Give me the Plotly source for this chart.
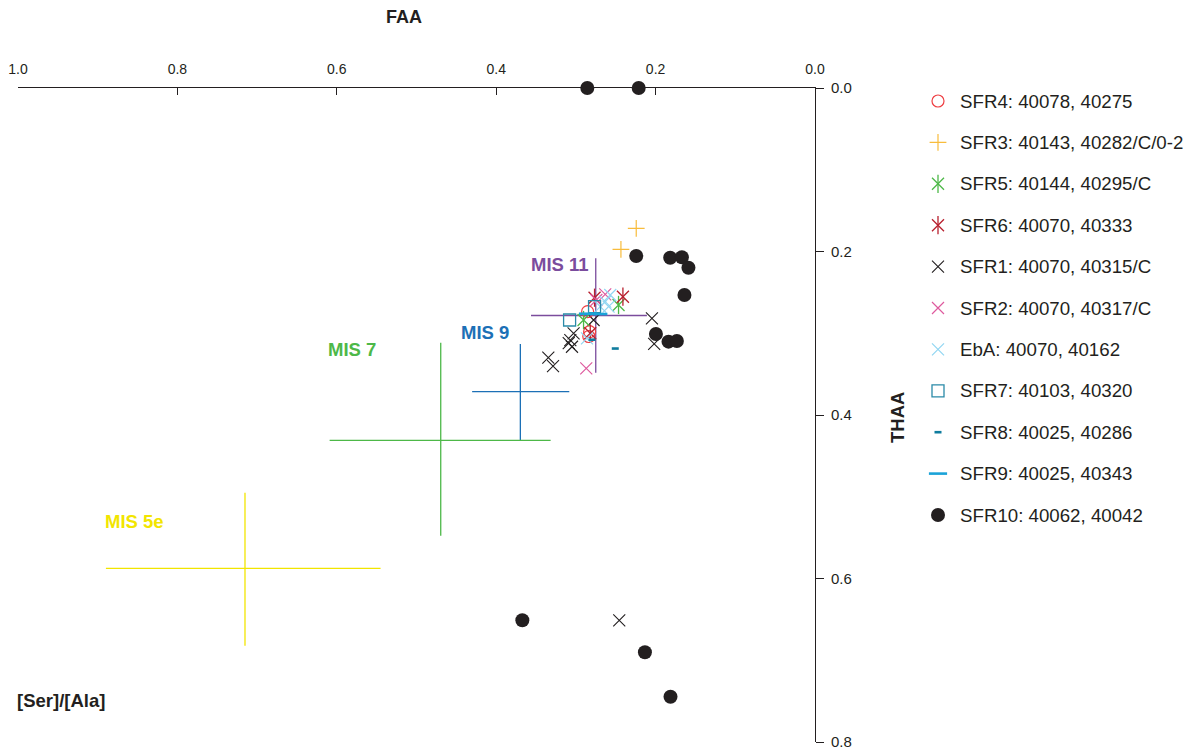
import plotly.graph_objects as go

# ---------------- data (FAA = x, THAA = y) ----------------
sfr4_x = [0.2853, 0.2828, 0.2838]
sfr4_y = [0.2736, 0.2981, 0.3040]
sfr3_x = [0.2243, 0.2435]
sfr3_y = [0.1716, 0.1973]
sfr5_x = [0.2465, 0.2904]
sfr5_y = [0.2654, 0.2838]
sfr6_x = [0.2766, 0.2410, 0.2820]
sfr6_y = [0.2565, 0.2553, 0.3001]
sfr1_x = [0.2456, 0.2046, 0.2018, 0.2778, 0.3029, 0.3070, 0.3049, 0.3346, 0.3287, 0.3090]
sfr1_y = [0.6511, 0.2817, 0.3131, 0.2838, 0.3001, 0.3083, 0.3165, 0.3299, 0.3401, 0.3120]
sfr2_x = [0.2632, 0.2870, 0.2744]
sfr2_y = [0.2524, 0.3429, 0.2593]
eba_x = [0.2569, 0.2632, 0.2590, 0.2694, 0.2861]
eba_y = [0.2532, 0.2614, 0.2675, 0.2675, 0.3062]
sfr7_x = [0.3079, 0.2766]
sfr7_y = [0.2838, 0.2675]
sfr8_x = [0.2506, 0.2798]
sfr8_y = [0.3187, 0.3079]
sfr9_x = [0.2848, 0.2719]
sfr9_y = [0.2761, 0.2765]
sfr10_x = [0.2857, 0.2212, 0.2243, 0.1817, 0.1670, 0.1588, 0.1638, 0.1996, 0.1838, 0.1733,
           0.3672, 0.2134, 0.1813]
sfr10_y = [0.0, 0.0, 0.2055, 0.2076, 0.2071, 0.2198, 0.2532, 0.3009, 0.3103, 0.3095,
           0.6511, 0.6903, 0.7446]

series_names = ["SFR4: 40078, 40275", "SFR3: 40143, 40282/C/0-2", "SFR5: 40144, 40295/C",
                "SFR6: 40070, 40333", "SFR1: 40070, 40315/C", "SFR2: 40070, 40317/C",
                "EbA: 40070, 40162", "SFR7: 40103, 40320", "SFR8: 40025, 40286",
                "SFR9: 40025, 40343", "SFR10: 40062, 40042"]

# MIS reference ranges: label, centre, low/high bounds
mis_labels = ["MIS 11", "MIS 9", "MIS 7", "MIS 5e"]
mis_x = [0.2751, 0.3697, 0.4696, 0.7152]
mis_y = [0.2783, 0.3715, 0.4310, 0.5875]
mis_x_low = [0.2109, 0.3083, 0.3317, 0.5451]
mis_x_high = [0.3563, 0.4302, 0.6090, 0.8897]
mis_y_low = [0.2083, 0.3131, 0.3116, 0.4950]
mis_y_high = [0.3483, 0.4306, 0.5476, 0.6822]
mis_label_x = [0.359, 0.447, 0.6135, 0.893]
mis_label_y = [0.2165, 0.2985, 0.3193, 0.5297]

x_ticks = [0.0, 0.2, 0.4, 0.6, 0.8, 1.0]
y_ticks = [0.0, 0.2, 0.4, 0.6, 0.8]

# ---------------- styles ----------------
DARK = "#231F20"
FONT = "Liberation Sans, Arial, Helvetica, sans-serif"
mis_colors = ["#7B4C9D", "#1C70B6", "#4DB848", "#F2E500"]

styles = [
    # (x, y, symbols, color, size, linewidth)
    (sfr4_x, sfr4_y, ["circle-open"], "#EE3E42", 12, 1.2),
    (sfr3_x, sfr3_y, ["cross-thin-open"], "#F8BC3C", 12, 1.2),
    (sfr5_x, sfr5_y, ["x-thin-open", "line-ns-open"], "#4DB848", 12, 1.3),
    (sfr6_x, sfr6_y, ["x-thin-open", "line-ns-open"], "#B8202E", 12, 1.3),
    (sfr1_x, sfr1_y, ["x-thin-open"], DARK, 12, 1.1),
    (sfr2_x, sfr2_y, ["x-thin-open"], "#DE5A9E", 12, 1.2),
    (eba_x, eba_y, ["x-thin-open"], "#92D6F2", 12, 1.2),
    (sfr7_x, sfr7_y, ["square-open"], "#2A8AA8", 12, 1.3),
    (sfr8_x, sfr8_y, ["line-ew-open"], "#0F7C9E", 5, 2.6),
    (sfr9_x, sfr9_y, ["line-ew-open"], "#1AA3D8", 13, 2.6),
    (sfr10_x, sfr10_y, ["circle"], DARK, 14, 0),
]

# ---------------- geometry (screen pixels; page body adds an 8px offset) ----------------
OFF = 8
W, H = 1193 - OFF, 751 - OFF
PLOT_L, PLOT_R, PLOT_T, PLOT_B = 18, 815, 88, 742   # screen px of the main plot box
ML, MR, MT = PLOT_L - OFF, 0, PLOT_T - OFF
MB = H - (PLOT_B - OFF)
PW = W - ML - MR
PH = H - MT - MB


def px_x(p):
    return (p - OFF - ML) / PW


def px_y(p):
    return (H - MB - (p - OFF)) / PH


fig = go.Figure()

# MIS crosses drawn as error bars
for i in range(len(mis_labels)):
    fig.add_trace(go.Scatter(
        x=[mis_x[i]], y=[mis_y[i]], mode="markers",
        marker=dict(size=1, color="rgba(0,0,0,0)"),
        error_x=dict(type="data", symmetric=False,
                     array=[mis_x_high[i] - mis_x[i]], arrayminus=[mis_x[i] - mis_x_low[i]],
                     color=mis_colors[i], thickness=1.3, width=0),
        error_y=dict(type="data", symmetric=False,
                     array=[mis_y_high[i] - mis_y[i]], arrayminus=[mis_y[i] - mis_y_low[i]],
                     color=mis_colors[i], thickness=1.3, width=0),
        showlegend=False, hoverinfo="skip", xaxis="x", yaxis="y"))
    fig.add_annotation(x=mis_label_x[i], y=mis_label_y[i], xref="x", yref="y",
                       text="<b>%s</b>" % mis_labels[i], showarrow=False,
                       xanchor="left", yanchor="middle",
                       font=dict(family=FONT, size=18.5, color=mis_colors[i]))

# data points
order = [10, 4, 0, 1, 2, 3, 5, 6, 7, 8, 9]
for k in order:
    xs, ys, syms, col, sz, lw = styles[k]
    for s in syms:
        sz_use = sz + 1 if s == "line-ns-open" else sz
        fig.add_trace(go.Scatter(
            x=xs, y=ys, mode="markers", name=series_names[k],
            marker=dict(symbol=s, size=sz_use, color=col, line=dict(color=col, width=lw)),
            cliponaxis=False, showlegend=False, xaxis="x", yaxis="y"))

# custom legend (x2/y2 axes in screen-pixel units)
leg_y0, leg_step = 101, 41.4
for k in range(len(series_names)):
    _, _, syms, col, sz, lw = styles[k]
    ry = leg_y0 + leg_step * k
    for s in syms:
        sz_use = sz + 1 if s == "line-ns-open" else sz
        fig.add_trace(go.Scatter(
            x=[938], y=[ry], mode="markers",
            marker=dict(symbol=s, size=sz_use, color=col, line=dict(color=col, width=lw)),
            cliponaxis=False, showlegend=False, hoverinfo="skip", xaxis="x2", yaxis="y2"))
    fig.add_annotation(x=958, y=ry, xref="x2", yref="y2", text=series_names[k],
                       showarrow=False, xanchor="left", yanchor="middle",
                       font=dict(family=FONT, size=18.7, color=DARK))

# axis titles
fig.add_annotation(x=px_x(403.5), y=px_y(17), xref="paper", yref="paper", text="<b>FAA</b>",
                   showarrow=False, xanchor="center", yanchor="middle",
                   font=dict(family=FONT, size=18, color=DARK))
fig.add_annotation(x=px_x(897), y=px_y(418), xref="paper", yref="paper", text="<b>THAA</b>",
                   showarrow=False, textangle=-90, xanchor="center", yanchor="middle",
                   font=dict(family=FONT, size=18.5, color=DARK))
fig.add_annotation(x=px_x(15), y=px_y(700), xref="paper", yref="paper", text="<b>[Ser]/[Ala]</b>",
                   showarrow=False, xanchor="left", yanchor="middle",
                   font=dict(family=FONT, size=18.5, color=DARK))

fig.update_layout(
    width=W, height=H,
    margin=dict(l=ML, r=MR, t=MT, b=MB, autoexpand=False),
    paper_bgcolor="white", plot_bgcolor="white",
    font=dict(family=FONT, color=DARK),
    showlegend=False,
    xaxis=dict(domain=[0, px_x(PLOT_R)], range=[1.0, 0.0], side="top", anchor="y",
               tickvals=x_ticks, tickformat=".1f", ticks="inside", ticklen=7, tickwidth=1,
               tickcolor=DARK, showline=True, linecolor=DARK, linewidth=1,
               showgrid=False, zeroline=False, automargin=False, ticklabelstandoff=7,
               tickfont=dict(family=FONT, size=14, color=DARK)),
    yaxis=dict(domain=[0, 1], range=[0.8, 0.0], side="right", anchor="x",
               tickvals=y_ticks, tickformat=".1f", ticks="outside", ticklen=8, tickwidth=1,
               tickcolor=DARK, showline=True, linecolor=DARK, linewidth=1,
               showgrid=False, zeroline=False, automargin=False, ticklabelstandoff=4,
               tickfont=dict(family=FONT, size=15, color=DARK)),
    xaxis2=dict(domain=[px_x(900), 1], range=[900, 1193], visible=False, anchor="y2"),
    yaxis2=dict(domain=[0, 1], range=[PLOT_B, PLOT_T], visible=False, anchor="x2"),
)

fig.write_html("out.html")
